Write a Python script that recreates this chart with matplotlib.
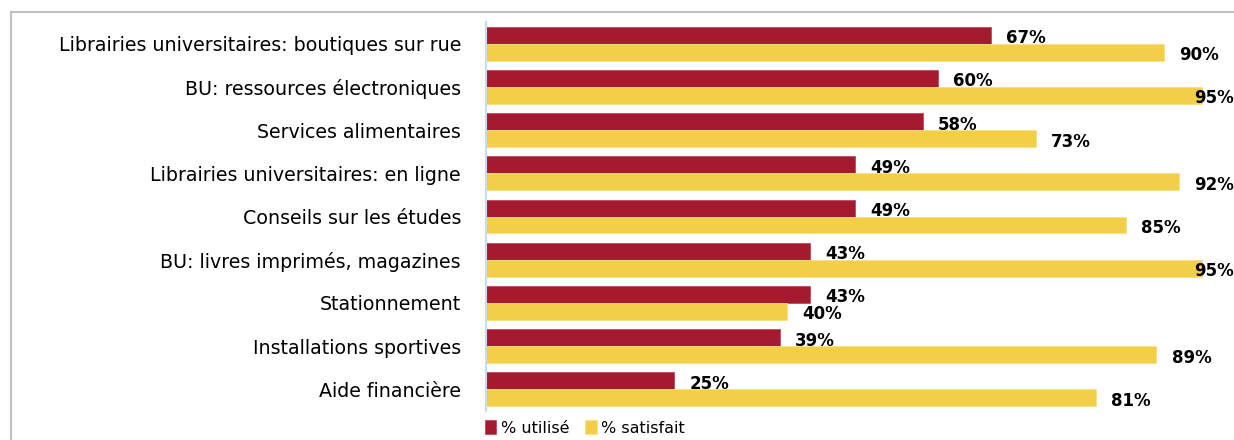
"""Usage vs satisfaction with campus services (horizontal grouped bars)."""

import numpy as np
import matplotlib
matplotlib.use("Agg")
import matplotlib.pyplot as plt
from matplotlib.patches import Rectangle

categories = [
    "Librairies universitaires: boutiques sur rue",
    "BU: ressources électroniques",
    "Services alimentaires",
    "Librairies universitaires: en ligne",
    "Conseils sur les études",
    "BU: livres imprimés, magazines",
    "Stationnement",
    "Installations sportives",
    "Aide financière",
]
pct_used = [67, 60, 58, 49, 49, 43, 43, 39, 25]
pct_satisfied = [90, 95, 73, 92, 85, 95, 40, 89, 81]
series_labels = ["% utilisé", "% satisfait"]

RED = "#A61A30"
YELLOW = "#F2CF46"

plt.rcParams["font.family"] = ["DejaVu Sans"]

W, H = 1234, 440
fig = plt.figure(figsize=(W / 100, H / 100), dpi=100)

# outer gray frame (right and bottom edges fall outside the image)
fig.patches.append(Rectangle((11 / W, -0.05), 1.1, (H - 12) / H + 0.05,
                             transform=fig.transFigure, fill=False,
                             edgecolor="#BFBFBF", linewidth=1.5))

ax = fig.add_axes([486 / W, 29 / H, 742 / W, 389 / H])

y = np.arange(len(categories))
h = 0.393
ax.barh(y - h / 2, pct_used, height=h, color=RED, edgecolor="#C4485A",
        linewidth=0.6, label=series_labels[0])
ax.barh(y + h / 2, pct_satisfied, height=h, color=YELLOW, edgecolor="#F7DF86",
        linewidth=0.6, label=series_labels[1])

for i, (u, s) in enumerate(zip(pct_used, pct_satisfied)):
    ax.text(min(u + 2, 94), i - h / 2 + 0.07, f"{u}%", ha="left", va="center",
            fontsize=12, fontweight="bold", color="black")
    ax.text(min(s + 2, 94), i + h / 2 + 0.07, f"{s}%", ha="left", va="center",
            fontsize=12, fontweight="bold", color="black")

ax.set_xlim(0, 98.5)
ax.set_ylim(len(categories) - 0.5, -0.5)
ax.set_yticks(y)
ax.set_yticklabels(categories, fontsize=13.7)
ax.tick_params(axis="y", length=0, pad=18)
ax.set_xticks([])
for side in ["top", "right", "bottom"]:
    ax.spines[side].set_visible(False)
ax.spines["left"].set_color("#C9DCEF")
ax.spines["left"].set_linewidth(1.5)

fig.legend(loc="center", bbox_to_anchor=(585 / W, 1 - 428 / H), ncol=2,
           frameon=False, fontsize=11.5, handlelength=0.7, handleheight=0.95,
           handletextpad=0.3, columnspacing=1.0, borderpad=0)

fig.savefig("out.png", dpi=100)
plt.close(fig)
